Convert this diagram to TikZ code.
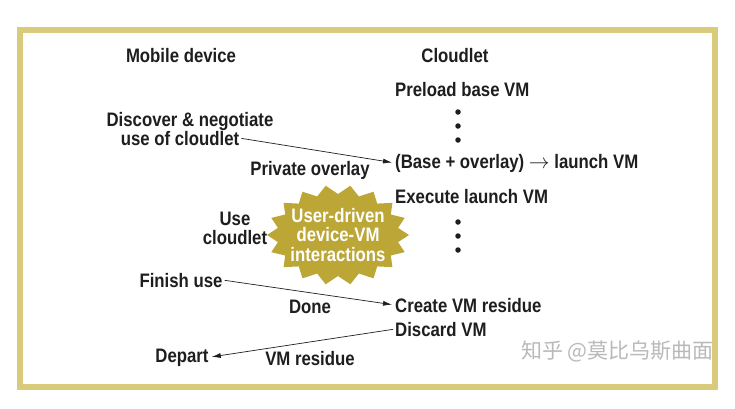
\documentclass[tikz,border=0pt]{standalone}
\usepackage{fontspec}
\setmainfont{Liberation Sans}[FakeStretch=0.86]
\newfontfamily\cjk{Noto Sans CJK SC}
\usetikzlibrary{arrows.meta}
\definecolor{framecol}{RGB}{216,203,124}
\definecolor{gold}{RGB}{187,166,54}
\definecolor{ink}{RGB}{30,30,30}
\tikzset{
  lbl/.style={font=\fontsize{19.5}{20}\selectfont\bfseries, inner sep=0pt, text=ink},
  dotmark/.style={circle, fill=ink, inner sep=0pt, minimum size=5.5pt},
  arr/.style={-{Latex[length=9pt,width=5pt]}, line width=0.7pt, draw=ink, shorten >=3pt, shorten <=2pt},
  bursttext/.style={font=\fontsize{19.5}{19.5}\selectfont\bfseries, text=white, align=center, inner sep=0pt},
}
\begin{document}
\begin{tikzpicture}[x=1pt,y=-1pt]
\useasboundingbox (0,0) rectangle (735,408);
\fill[white] (0,0) rectangle (735,408);
\draw[framecol, line width=6pt] (20,30) rectangle (715,387);
% headers
\node[lbl,anchor=base] (mob) at (181,62) {Mobile device};
\node[lbl,anchor=base] (cl) at (455,62) {Cloudlet};
% cloudlet column
\node[lbl,anchor=base west] (pre) at (395,96) {Preload base VM};
\node[dotmark] (d1) at (458,112) {};
\node[dotmark] (d2) at (458,126) {};
\node[dotmark] (d3) at (458,140) {};
\node[lbl,anchor=base west] (base) at (395,168) {(Base + overlay) $\rightarrow$ launch VM};
\node[lbl,anchor=base west] (exec) at (395,203) {Execute launch VM};
\node[dotmark] (d4) at (458,222) {};
\node[dotmark] (d5) at (458,236) {};
\node[dotmark] (d6) at (458,250) {};
\node[lbl,anchor=base west] (cre) at (395,312) {Create VM residue};
\node[lbl,anchor=base west] (dis) at (395,336) {Discard VM};
% device column
\node[lbl,anchor=base] (disc) at (190,126) {Discover \& negotiate};
\node[lbl,anchor=base] (useof) at (180,145) {use of cloudlet};
\node[lbl,anchor=base] (use) at (235,225) {Use};
\node[lbl,anchor=base] (cldt) at (235,244) {cloudlet};
\node[lbl,anchor=base] (fin) at (181,287) {Finish use};
\node[lbl,anchor=base] (dep) at (182,362) {Depart};
% message labels
\node[lbl,anchor=base] (priv) at (310,175) {Private overlay};
\node[lbl,anchor=base] (done) at (310,313) {Done};
\node[lbl,anchor=base] (res) at (310,365) {VM residue};
% starburst
\coordinate (bc) at (338,235);
\begin{scope}[shift={(bc)}]
\fill[gold] (0:71 and 50) \foreach \i in {0,...,17} { -- ({\i*20+10}:61 and 41) -- ({\i*20+20}:71 and 50) } -- cycle;
\end{scope}
\node[bursttext] (burst) at (bc) {User-driven\\device-VM\\interactions};
% arrows
\draw[arr] (useof.east) -- (base.west);
\draw[arr] (fin.east) -- (cre.west);
\draw[arr] (dis.west) -- (dep.east);
% watermark
\node[font=\cjk\fontsize{21}{21}\selectfont, text=gray!55, anchor=base east, inner sep=0pt] (wm) at (714,358) {知乎 @莫比乌斯曲面};
\end{tikzpicture}
\end{document}
